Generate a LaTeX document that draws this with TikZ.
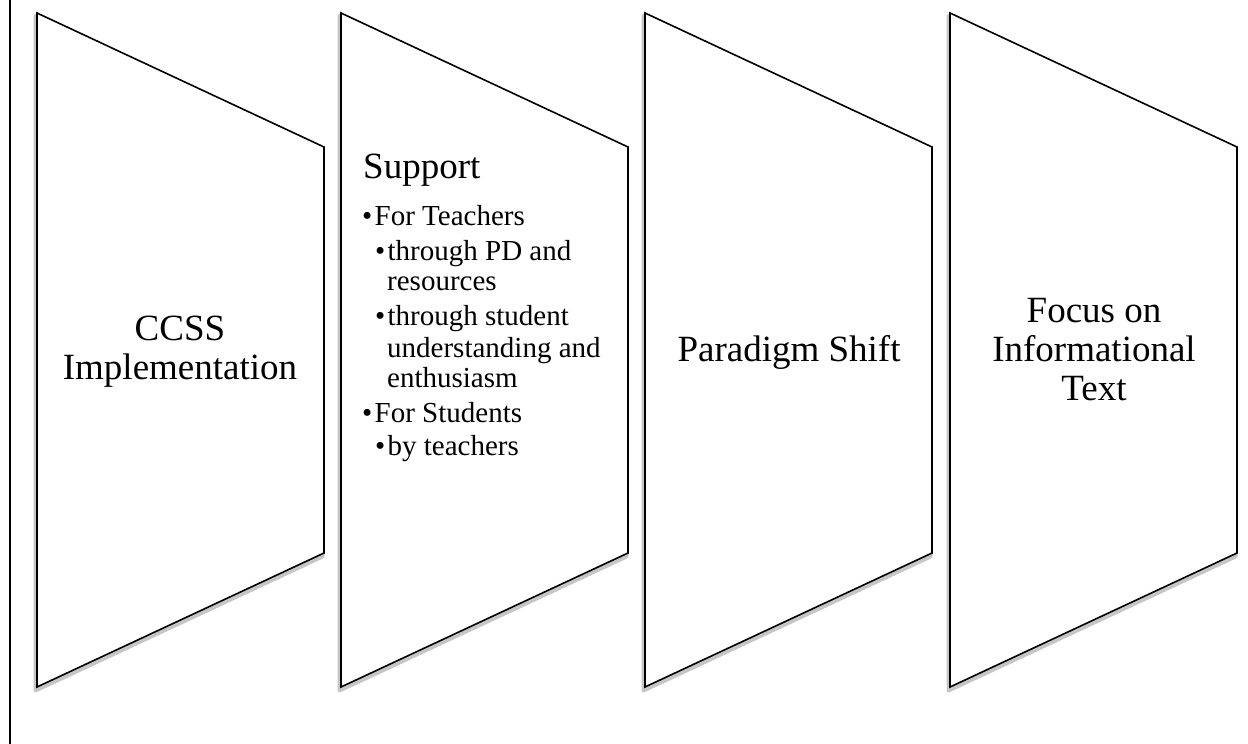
\documentclass[tikz,border=0pt]{standalone}
\usepackage{fontspec}
\setmainfont{Liberation Serif}
\usetikzlibrary{positioning}

\newcommand{\bul}{\makebox[12.5pt][l]{\textbullet}}

\begin{document}
\begin{tikzpicture}[x=1pt,y=-1pt,
    panel/.style={draw=black, line width=1.6pt, fill=white, line join=miter},
    panelshadow/.style={draw=gray!45, line width=4pt, line join=round},
    title/.style={font=\fontsize{37}{39}\selectfont, align=center, inner sep=0pt},
    head/.style={font=\fontsize{37}{39}\selectfont, inner sep=0pt, anchor=base west},
    item/.style={font=\fontsize{29}{31}\selectfont, inner sep=0pt, anchor=base west}]
    \useasboundingbox (0,0) rectangle (1248,744);
    \draw[line width=1.8pt] (10,0) -- (10,744);
    % four slanted panels
    \foreach \n/\x in {p1/37, p2/341, p3/645, p4/950} {
        \coordinate (\n-tl) at (\x,13);
        \coordinate (\n-tr) at (\x+287,147);
        \coordinate (\n-br) at (\x+287,553);
        \coordinate (\n-bl) at (\x,687);
        \draw[panelshadow] (\x-1.5,16) -- (\x+285.5,150) -- (\x+285.5,556.5) -- (\x-1.5,690.5) -- cycle;
        \draw[panel] (\n-tl) -- (\n-tr) -- (\n-br) -- (\n-bl) -- cycle;
    }
    \node[title] (ccss) at (180,352) {CCSS\\Implementation};
    \node[title] (shift) at (789,352) {Paradigm Shift};
    \node[title] (focus) at (1094,350) {Focus on\\Informational\\Text};
    % support list
    \node[head] (support) at (363,178) {Support};
    \foreach \y/\x/\txt [count=\i] in {
        225/362/{\bul For Teachers},
        260/375/{\bul through PD and},
        290/387/{resources},
        325/375/{\bul through student},
        357/387/{understanding and},
        387/387/{enthusiasm},
        422/362/{\bul For Students},
        455/375/{\bul by teachers}}
        \node[item] (item\i) at (\x,\y) {\txt};
\end{tikzpicture}
\end{document}
